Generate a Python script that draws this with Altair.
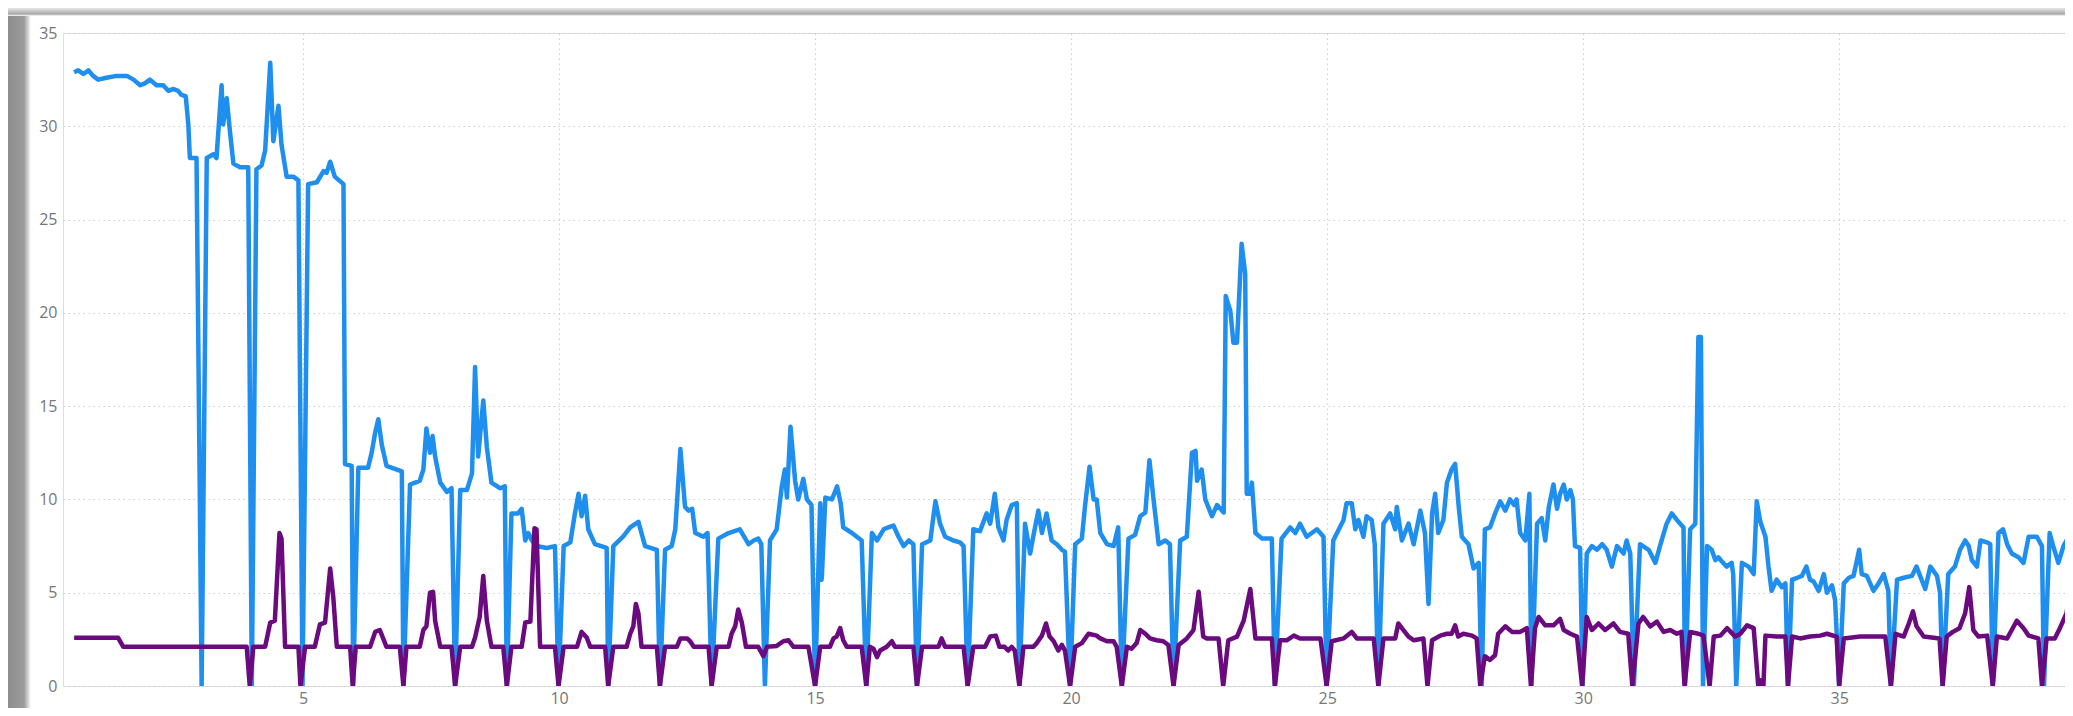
import altair as alt
import pandas as pd

# ---------------- data ----------------
blue_x = [0.53, 0.61, 0.71, 0.81, 0.90, 1.00, 1.16, 1.36, 1.56, 1.69, 1.82, 1.91, 2.01, 2.14, 2.27, 2.37, 2.47, 2.56, 2.62, 2.71,
          2.76, 2.79, 2.92, 3.02, 3.12, 3.25, 3.31, 3.41, 3.44, 3.51, 3.57, 3.64, 3.77, 3.93, 4.00, 4.09, 4.19, 4.26, 4.36, 4.42,
          4.52, 4.58, 4.68, 4.81, 4.91, 4.99, 5.10, 5.27, 5.40, 5.46, 5.53, 5.62, 5.79, 5.82, 5.95, 5.98, 6.08, 6.27, 6.34, 6.41,
          6.47, 6.54, 6.63, 6.93, 6.96, 7.09, 7.19, 7.28, 7.35, 7.41, 7.48, 7.53, 7.58, 7.68, 7.81, 7.90, 7.97, 8.07, 8.20, 8.30,
          8.36, 8.42, 8.52, 8.59, 8.68, 8.85, 8.94, 8.98, 9.07, 9.20, 9.27, 9.34, 9.40, 9.47, 9.56, 9.76, 9.92, 9.99, 10.09, 10.22,
          10.31, 10.38, 10.44, 10.51, 10.57, 10.70, 10.93, 10.96, 11.06, 11.25, 11.39, 11.55, 11.68, 11.91, 11.97, 12.07, 12.20, 12.27, 12.37, 12.46,
          12.53, 12.60, 12.66, 12.82, 12.90, 12.98, 13.11, 13.31, 13.53, 13.70, 13.80, 13.89, 13.95, 14.02, 14.12, 14.25, 14.35, 14.41, 14.45, 14.52,
          14.61, 14.67, 14.77, 14.84, 14.93, 15.00, 15.10, 15.13, 15.20, 15.33, 15.43, 15.50, 15.55, 15.72, 15.91, 16.00, 16.11, 16.21, 16.34, 16.43,
          16.53, 16.63, 16.73, 16.83, 16.92, 16.99, 17.09, 17.25, 17.35, 17.44, 17.54, 17.70, 17.83, 17.90, 17.98, 18.09, 18.22, 18.35, 18.42, 18.51,
          18.58, 18.68, 18.74, 18.84, 18.94, 18.99, 19.10, 19.20, 19.26, 19.36, 19.43, 19.52, 19.62, 19.72, 19.82, 19.88, 19.98, 20.08, 20.21, 20.27,
          20.36, 20.44, 20.50, 20.57, 20.70, 20.83, 20.92, 20.99, 21.12, 21.25, 21.35, 21.45, 21.53, 21.61, 21.71, 21.84, 21.93, 22.00, 22.13, 22.26,
          22.36, 22.43, 22.46, 22.55, 22.62, 22.75, 22.85, 22.98, 23.02, 23.11, 23.17, 23.24, 23.33, 23.40, 23.43, 23.50, 23.53, 23.60, 23.73, 23.92,
          23.98, 24.11, 24.28, 24.38, 24.47, 24.60, 24.80, 24.93, 24.99, 25.12, 25.32, 25.38, 25.48, 25.55, 25.61, 25.71, 25.77, 25.87, 25.93, 26.00,
          26.10, 26.23, 26.33, 26.36, 26.46, 26.59, 26.69, 26.82, 26.91, 26.98, 27.05, 27.11, 27.17, 27.27, 27.34, 27.43, 27.50, 27.57, 27.63, 27.76,
          27.86, 27.96, 28.02, 28.08, 28.18, 28.28, 28.38, 28.48, 28.57, 28.65, 28.70, 28.77, 28.87, 28.95, 28.99, 29.10, 29.19, 29.26, 29.33, 29.42,
          29.49, 29.55, 29.62, 29.68, 29.75, 29.80, 29.84, 29.94, 29.99, 30.07, 30.17, 30.27, 30.37, 30.46, 30.56, 30.66, 30.79, 30.85, 30.92, 30.99,
          31.11, 31.28, 31.41, 31.50, 31.63, 31.73, 31.83, 31.96, 31.99, 32.09, 32.19, 32.25, 32.30, 32.34, 32.42, 32.51, 32.58, 32.64, 32.70, 32.80,
          32.90, 32.93, 32.99, 33.10, 33.23, 33.33, 33.39, 33.46, 33.56, 33.62, 33.68, 33.78, 33.88, 33.95, 34.00, 34.08, 34.18, 34.27, 34.36, 34.43,
          34.50, 34.60, 34.70, 34.76, 34.86, 34.92, 35.00, 35.09, 35.19, 35.28, 35.39, 35.44, 35.54, 35.67, 35.77, 35.87, 35.96, 36.01, 36.13, 36.26,
          36.42, 36.51, 36.58, 36.68, 36.78, 36.91, 36.97, 37.02, 37.13, 37.26, 37.36, 37.46, 37.53, 37.59, 37.69, 37.76, 37.89, 37.95, 38.00, 38.11,
          38.20, 38.28, 38.37, 38.50, 38.60, 38.70, 38.86, 38.96, 39.00, 39.11, 39.18, 39.28, 39.38, 39.48, 39.56]
blue_y = [32.9, 33.0, 32.8, 33.0, 32.7, 32.5, 32.6, 32.7, 32.7, 32.5, 32.2, 32.3, 32.5, 32.2, 32.2, 31.9, 32.0, 31.9, 31.7, 31.6,
          30.1, 28.3, 28.3, 0.0, 28.3, 28.5, 28.3, 32.2, 30.1, 31.5, 29.8, 28.0, 27.8, 27.8, 0.0, 27.7, 27.9, 28.7, 33.4, 29.2,
          31.1, 29.0, 27.3, 27.3, 27.1, 0.0, 26.9, 27.0, 27.6, 27.5, 28.1, 27.3, 26.9, 11.9, 11.8, 0.0, 11.7, 11.7, 12.5, 13.6,
          14.3, 12.9, 11.8, 11.5, 0.0, 10.8, 10.9, 11.0, 11.6, 13.8, 12.5, 13.4, 12.3, 10.9, 10.4, 10.6, 0.0, 10.5, 10.5, 11.4,
          17.1, 12.3, 15.3, 12.8, 10.9, 10.6, 10.7, 0.0, 9.25, 9.25, 9.5, 7.8, 8.2, 7.8, 7.5, 7.4, 7.5, 0.0, 7.5, 7.7,
          9.25, 10.3, 9.1, 10.2, 8.4, 7.6, 7.4, 0.0, 7.5, 8.0, 8.5, 8.8, 7.5, 7.3, 0.0, 7.3, 7.5, 8.4, 12.7, 9.6,
          9.4, 9.5, 8.2, 8.0, 8.2, 0.0, 7.9, 8.2, 8.4, 7.6, 7.8, 7.9, 7.6, 0.0, 7.8, 8.4, 10.7, 11.6, 10.1, 13.9,
          11.0, 10.0, 11.1, 10.0, 9.7, 0.0, 9.8, 5.7, 10.1, 10.0, 10.7, 9.8, 8.5, 8.2, 7.8, 0.0, 8.2, 7.8, 8.4, 8.5,
          8.6, 8.0, 7.5, 7.8, 7.6, 0.0, 7.6, 7.8, 9.9, 8.7, 8.0, 7.8, 7.7, 7.5, 0.0, 8.4, 8.3, 9.25, 8.7, 10.3,
          8.5, 7.8, 8.9, 9.7, 9.8, 0.0, 8.7, 7.1, 8.0, 9.4, 8.2, 9.25, 7.8, 7.6, 7.3, 7.2, 0.0, 7.6, 7.9, 9.6,
          11.75, 10.0, 10.0, 8.2, 7.6, 7.5, 8.5, 0.0, 7.9, 8.1, 9.1, 9.3, 12.1, 10.0, 7.6, 7.8, 7.6, 0.0, 7.8, 8.0,
          12.5, 12.6, 11.0, 11.6, 10.0, 9.1, 9.7, 9.3, 20.9, 20.1, 18.4, 18.4, 23.7, 22.1, 10.3, 10.3, 10.9, 8.2, 7.9, 7.9,
          0.0, 7.9, 8.5, 8.2, 8.7, 8.0, 8.4, 8.0, 0.0, 7.8, 8.9, 9.8, 9.8, 8.4, 8.9, 8.0, 9.1, 8.9, 7.6, 0.0,
          8.7, 9.25, 8.4, 9.6, 7.8, 8.7, 7.6, 9.4, 8.2, 4.4, 9.25, 10.3, 8.2, 8.9, 10.9, 11.6, 11.9, 9.6, 8.0, 7.6,
          6.3, 6.6, 0.0, 8.4, 8.5, 9.25, 9.9, 9.4, 10.0, 9.7, 10.0, 8.2, 7.8, 10.3, 0.0, 8.7, 9.0, 7.8, 9.6, 10.8,
          9.5, 10.3, 10.8, 10.0, 10.5, 10.0, 7.5, 7.4, 0.0, 7.1, 7.5, 7.3, 7.6, 7.3, 6.4, 7.5, 7.1, 7.8, 7.1, 0.0,
          7.6, 7.3, 6.6, 7.5, 8.7, 9.25, 8.9, 8.5, 0.0, 8.4, 8.7, 18.7, 18.7, 0.0, 7.5, 7.3, 6.75, 6.9, 6.7, 6.4,
          6.6, 6.0, 0.0, 6.6, 6.4, 6.0, 9.9, 8.8, 8.0, 6.4, 5.1, 5.7, 5.3, 5.5, 0.0, 5.7, 5.8, 5.9, 6.4, 5.7,
          5.6, 5.1, 6.0, 5.0, 5.4, 4.6, 0.0, 5.5, 5.8, 5.9, 7.3, 6.0, 5.9, 5.1, 5.5, 6.0, 5.1, 0.0, 5.7, 5.8,
          5.9, 6.4, 5.9, 5.2, 6.4, 5.9, 5.0, 0.0, 6.0, 6.4, 7.3, 7.8, 7.5, 6.75, 6.4, 7.8, 7.7, 7.6, 0.0, 8.2,
          8.4, 7.6, 7.1, 6.9, 6.6, 8.0, 8.0, 7.5, 0.0, 8.2, 7.5, 6.6, 7.5, 8.0, 8.2]

purple_x = [0.53, 1.39, 1.49, 3.90, 3.96, 4.03, 4.26, 4.36, 4.45, 4.54, 4.58, 4.65, 4.91, 4.95, 5.04, 5.23, 5.33, 5.43, 5.53, 5.59,
            5.66, 5.92, 5.97, 6.03, 6.31, 6.41, 6.50, 6.63, 6.89, 6.96, 7.02, 7.28, 7.35, 7.41, 7.48, 7.54, 7.58, 7.68, 7.90, 7.97,
            8.07, 8.30, 8.36, 8.45, 8.52, 8.59, 8.68, 8.91, 8.98, 9.07, 9.27, 9.34, 9.44, 9.52, 9.56, 9.63, 9.92, 9.99, 10.09, 10.35,
            10.44, 10.54, 10.61, 10.90, 10.96, 11.06, 11.32, 11.39, 11.45, 11.50, 11.55, 11.61, 11.91, 11.97, 12.07, 12.30, 12.37, 12.50, 12.56, 12.63,
            12.92, 12.98, 13.08, 13.31, 13.37, 13.44, 13.50, 13.57, 13.65, 13.89, 13.99, 14.06, 14.25, 14.38, 14.48, 14.58, 14.87, 15.00, 15.10, 15.29,
            15.36, 15.42, 15.49, 15.55, 15.62, 15.91, 16.00, 16.07, 16.14, 16.21, 16.27, 16.40, 16.50, 16.56, 16.92, 16.99, 17.09, 17.41, 17.47, 17.54,
            17.90, 17.98, 18.09, 18.32, 18.42, 18.53, 18.60, 18.70, 18.77, 18.84, 18.90, 18.99, 19.07, 19.26, 19.33, 19.43, 19.51, 19.58, 19.66, 19.75,
            19.82, 19.88, 19.98, 20.08, 20.21, 20.34, 20.50, 20.57, 20.70, 20.83, 20.89, 20.99, 21.09, 21.18, 21.28, 21.35, 21.45, 21.54, 21.67, 21.80,
            21.90, 22.00, 22.10, 22.26, 22.39, 22.49, 22.58, 22.65, 22.88, 22.97, 23.07, 23.24, 23.37, 23.50, 23.60, 23.92, 23.98, 24.08, 24.21, 24.35,
            24.47, 24.87, 24.99, 25.09, 25.32, 25.48, 25.58, 25.91, 26.00, 26.10, 26.33, 26.39, 26.49, 26.59, 26.69, 26.88, 26.96, 27.05, 27.21, 27.34,
            27.43, 27.50, 27.56, 27.66, 27.83, 27.92, 27.99, 28.08, 28.18, 28.28, 28.34, 28.48, 28.61, 28.77, 28.90, 28.98, 29.06, 29.13, 29.26, 29.42,
            29.55, 29.62, 29.75, 29.88, 29.98, 30.07, 30.17, 30.30, 30.43, 30.59, 30.72, 30.88, 30.96, 31.08, 31.17, 31.31, 31.44, 31.57, 31.70, 31.83,
            31.92, 31.98, 32.09, 32.25, 32.35, 32.47, 32.55, 32.68, 32.81, 32.97, 33.07, 33.20, 33.33, 33.42, 33.47, 33.52, 33.56, 33.78, 33.95, 34.00,
            34.08, 34.24, 34.43, 34.63, 34.76, 34.95, 35.00, 35.09, 35.41, 35.90, 36.01, 36.10, 36.26, 36.36, 36.44, 36.51, 36.65, 36.96, 37.02, 37.10,
            37.22, 37.35, 37.46, 37.54, 37.62, 37.72, 37.89, 38.00, 38.08, 38.28, 38.37, 38.47, 38.60, 38.70, 38.89, 38.96, 39.05, 39.21, 39.31, 39.44,
            39.50, 39.56]
purple_y = [2.58, 2.58, 2.1, 2.1, 0.0, 2.1, 2.1, 3.4, 3.5, 8.2, 7.9, 2.1, 2.1, 0.0, 2.1, 2.1, 3.3, 3.4, 6.3, 4.8,
            2.1, 2.1, 0.0, 2.1, 2.1, 2.9, 3.0, 2.1, 2.1, 0.0, 2.1, 2.1, 3.0, 3.2, 5.0, 5.05, 3.5, 2.1, 2.1, 0.0,
            2.1, 2.1, 2.6, 3.7, 5.9, 3.5, 2.1, 2.1, 0.0, 2.1, 2.1, 3.4, 3.45, 8.45, 8.4, 2.1, 2.1, 0.0, 2.1, 2.1,
            2.9, 2.6, 2.1, 2.1, 0.0, 2.1, 2.1, 2.8, 3.2, 4.4, 3.9, 2.1, 2.1, 0.0, 2.1, 2.1, 2.55, 2.55, 2.4, 2.1,
            2.1, 0.0, 2.1, 2.1, 2.8, 3.2, 4.1, 3.4, 2.1, 2.1, 1.6, 2.1, 2.15, 2.4, 2.45, 2.1, 2.1, 0.0, 2.1, 2.1,
            2.55, 2.65, 3.1, 2.45, 2.1, 2.1, 0.0, 2.1, 2.0, 1.55, 1.9, 2.1, 2.4, 2.1, 2.1, 0.0, 2.1, 2.1, 2.55, 2.1,
            2.1, 0.0, 2.1, 2.1, 2.65, 2.7, 2.1, 2.1, 1.9, 2.1, 1.9, 0.0, 2.1, 2.1, 2.3, 2.7, 3.35, 2.65, 2.4, 1.9,
            2.2, 1.9, 0.0, 2.1, 2.3, 2.8, 2.7, 2.55, 2.4, 2.4, 2.1, 0.0, 2.1, 2.0, 2.3, 3.0, 2.8, 2.55, 2.45, 2.4,
            2.2, 0.0, 2.2, 2.55, 3.0, 5.05, 2.65, 2.55, 2.55, 0.0, 2.45, 2.65, 3.5, 5.2, 2.55, 2.55, 0.0, 2.45, 2.45, 2.7,
            2.55, 2.55, 0.0, 2.4, 2.55, 2.9, 2.55, 2.55, 0.0, 2.55, 2.55, 3.35, 3.0, 2.65, 2.45, 2.55, 0.0, 2.45, 2.7, 2.8,
            2.8, 3.25, 2.65, 2.8, 2.7, 2.55, 0.0, 1.6, 1.4, 1.65, 2.8, 3.2, 2.9, 2.9, 3.1, 0.0, 3.1, 3.7, 3.25, 3.25,
            3.6, 3.0, 2.8, 2.65, 0.0, 3.7, 3.0, 3.35, 3.0, 3.35, 2.9, 2.8, 0.0, 3.35, 3.7, 3.2, 3.45, 2.9, 3.0, 2.8,
            2.9, 0.0, 2.9, 2.8, 2.7, 0.0, 2.65, 2.7, 3.1, 2.65, 2.8, 3.25, 3.1, 0.0, 0.3, 0.0, 2.7, 2.65, 2.65, 0.0,
            2.65, 2.55, 2.65, 2.7, 2.8, 2.65, 0.0, 2.55, 2.65, 2.65, 0.0, 2.8, 2.65, 3.35, 4.0, 3.2, 2.65, 2.55, 0.0, 2.65,
            2.9, 3.1, 3.9, 5.3, 3.0, 2.65, 2.7, 0.0, 2.65, 2.55, 3.0, 3.5, 3.1, 2.7, 2.55, 0.0, 2.55, 2.55, 3.1, 3.9,
            5.0, 5.15]

x_ticks = [5, 10, 15, 20, 25, 30, 35]
y_ticks = [0, 5, 10, 15, 20, 25, 30, 35]

blue_df = pd.DataFrame({"x": blue_x, "y": blue_y})
purple_df = pd.DataFrame({"x": purple_x, "y": purple_y})

X_DOMAIN = [0.3125, 39.41]
Y_DOMAIN = [0, 35]

LABEL_FONT = "Open Sans"
x_enc = alt.X("x:Q", scale=alt.Scale(domain=X_DOMAIN, nice=False, zero=False),
              axis=alt.Axis(values=x_ticks, title=None, grid=True, ticks=False, domain=False,
                            labelPadding=4, labelFontSize=16, labelColor="#777777",
                            labelFont=LABEL_FONT, gridDash=[1.5, 3.5], gridColor="#cfcfcf",
                            gridWidth=1.2))
y_enc = alt.Y("y:Q", scale=alt.Scale(domain=Y_DOMAIN, nice=False),
              axis=alt.Axis(values=y_ticks, title=None, grid=True, ticks=False, domain=False,
                            labelPadding=6, labelFontSize=16, labelColor="#777777",
                            labelFont=LABEL_FONT, gridDash=[1.5, 3.5], gridColor="#cfcfcf",
                            gridWidth=1.2))

blue_line = alt.Chart(blue_df).mark_line(color="#1E8FEF", strokeWidth=4.5, clip=True,
                                         strokeJoin="round").encode(x=x_enc, y=y_enc)
purple_line = alt.Chart(purple_df).mark_line(color="#6A0A7E", strokeWidth=4.5, clip=True,
                                             strokeJoin="round").encode(x="x:Q", y="y:Q")

# decorative frame of the original screenshot (gray edge on the left and top)
frame_df = pd.DataFrame({"k": [0]})
left_band = alt.Chart(frame_df).mark_rect(
    clip=False,
    color=alt.LinearGradient(gradient="linear", x1=0, x2=1, y1=0, y2=0,
                             stops=[alt.GradientStop(color="#8e8e8e", offset=0),
                                    alt.GradientStop(color="#9c9c9c", offset=0.7),
                                    alt.GradientStop(color="#ffffff", offset=1)])
).encode(x=alt.value(-55), x2=alt.value(-32), y=alt.value(-25), y2=alt.value(680))
top_band = alt.Chart(frame_df).mark_rect(
    clip=False,
    color=alt.LinearGradient(gradient="linear", x1=0, x2=0, y1=0, y2=1,
                             stops=[alt.GradientStop(color="#e6e6e6", offset=0),
                                    alt.GradientStop(color="#a8a8a8", offset=0.75),
                                    alt.GradientStop(color="#ffffff", offset=1)])
).encode(x=alt.value(-55), x2=alt.value(2002), y=alt.value(-25), y2=alt.value(-17))

chart = alt.layer(left_band, top_band, blue_line, purple_line).properties(
    width=2002, height=653,
    autosize=alt.AutoSizeParams(type="none"),
    padding={"left": 55, "top": 25, "right": 0, "bottom": 22},
).configure_view(stroke=None).configure(background="white")

chart.save("out.html", embed_options={"renderer": "svg", "actions": False})
